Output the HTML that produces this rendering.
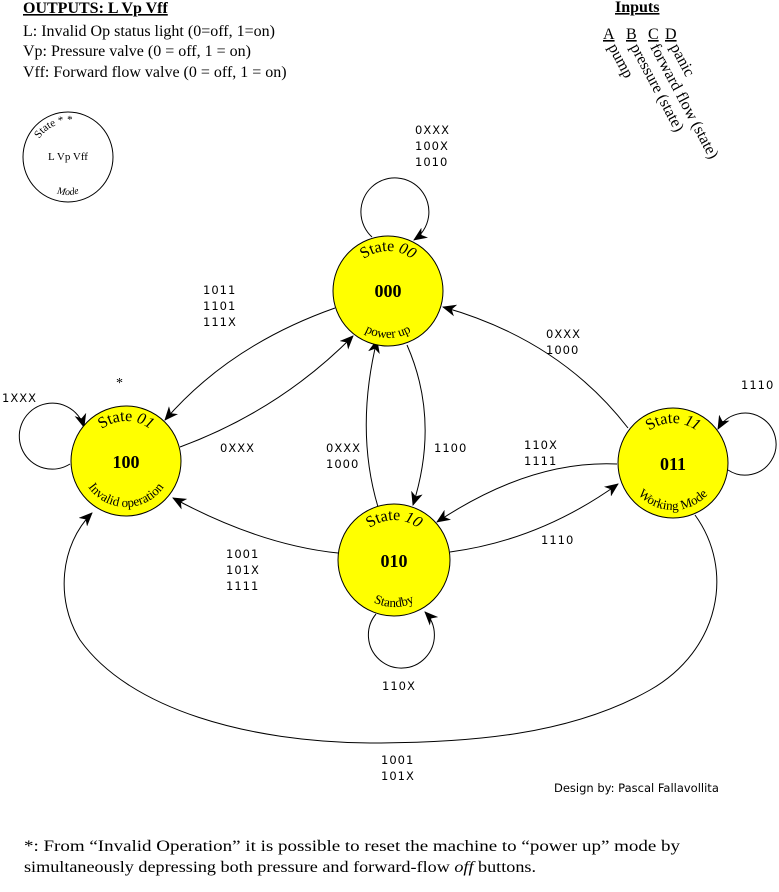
<!DOCTYPE html>
<html><head><meta charset="utf-8"><style>
html,body{margin:0;padding:0;background:#fff;}
svg{display:block;}
.s{font-family:"DejaVu Sans","Liberation Sans",sans-serif;font-size:11.5px;letter-spacing:1px;fill:#000;}
.t{font-family:"Liberation Serif",serif;}
</style></head><body>
<svg width="779" height="892" viewBox="0 0 779 892" xmlns="http://www.w3.org/2000/svg">
<defs>
<marker id="a" markerWidth="14" markerHeight="12" refX="13" refY="6" orient="auto" markerUnits="userSpaceOnUse">
<path d="M0,0 L14,6 L0,12 L4,6 Z" fill="#000"/></marker>
<path id="t00" d="M348,291 A40,40 0 0 1 428,291"/>
<path id="b00" d="M341,291 A47,47 0 0 0 435,291"/>
<path id="t01" d="M86,461 A40,40 0 0 1 166,461"/>
<path id="b01" d="M80,461 A46,46 0 0 0 172,461"/>
<path id="t10" d="M354,560 A40,40 0 0 1 434,560"/>
<path id="b10" d="M347,560 A47,47 0 0 0 441,560"/>
<path id="t11" d="M633,463 A40,40 0 0 1 713,463"/>
<path id="b11" d="M626,463 A47,47 0 0 0 720,463"/>
<path id="tl" d="M34,157 A34,34 0 0 1 102,157"/>
<path id="bl" d="M30,157 A38,38 0 0 0 106,157"/>
</defs>

<g class="t" font-size="16">
<text x="23" y="13" font-weight="bold" text-decoration="underline">OUTPUTS: L Vp Vff</text>
<text x="23" y="36">L: Invalid Op status light (0=off, 1=on)</text>
<text x="23" y="56">Vp: Pressure valve (0 = off, 1 = on)</text>
<text x="23" y="77">Vff: Forward flow valve (0 = off, 1 = on)</text>
<text x="615" y="12" font-weight="bold" text-decoration="underline">Inputs</text>
<text x="603" y="39" text-decoration="underline">A</text>
<text x="626" y="39" text-decoration="underline">B</text>
<text x="648" y="39" text-decoration="underline">C</text>
<text x="665" y="39" text-decoration="underline">D</text>
<text transform="translate(608,47) rotate(62)">pump</text>
<text transform="translate(630,47) rotate(62)">pressure (state)</text>
<text transform="translate(650,47) rotate(62)">forward flow (state)</text>
<text transform="translate(670,47) rotate(62)">panic</text>
</g>

<circle cx="68" cy="157" r="45" fill="#fff" stroke="#000"/>
<text class="t" font-size="11"><textPath href="#tl" startOffset="18%">State *  *</textPath></text>
<text class="t" x="68" y="160" font-size="11" text-anchor="middle">L Vp Vff</text>
<text class="t" font-size="10" font-style="italic"><textPath href="#bl" startOffset="50%" text-anchor="middle">Mode</textPath></text>

<g fill="none" stroke="#000" stroke-width="1">
<path d="M372,237 A34,34 0 1 1 414,240" marker-end="url(#a)"/>
<path d="M70,464 A33,33 0 1 1 84,427" marker-end="url(#a)"/>
<path d="M376,614 A33,33 0 1 0 425,612" marker-end="url(#a)"/>
<path d="M728,470 A31,31 0 1 0 718,429" marker-end="url(#a)"/>
<path d="M335,308 Q230,345 165,420" marker-end="url(#a)"/>
<path d="M180,447 Q280,410 353,336" marker-end="url(#a)"/>
<path d="M407,345 Q440,420 413,505" marker-end="url(#a)"/>
<path d="M378,507 Q355,430 377,340" marker-end="url(#a)"/>
<path d="M628,428 Q560,340 443,307" marker-end="url(#a)"/>
<path d="M617,464 Q530,460 437,522" marker-end="url(#a)"/>
<path d="M450,552 Q540,540 618,484" marker-end="url(#a)"/>
<path d="M338,553 Q260,545 173,498" marker-end="url(#a)"/>
<path d="M695,515 C735,570 720,650 650,690 C570,735 470,743 370,743 C250,742 130,710 80,640 C55,600 60,545 92,513" marker-end="url(#a)"/>
</g>

<g fill="#ff0" stroke="#000">
<circle cx="388" cy="291" r="55"/>
<circle cx="126" cy="461" r="55"/>
<circle cx="394" cy="560" r="56"/>
<circle cx="673" cy="463" r="55"/>
</g>
<g class="t">
<text font-size="16"><textPath href="#t00" startOffset="50%" text-anchor="middle">State <tspan font-style="italic">00</tspan></textPath></text>
<text x="388" y="297" font-size="18" font-weight="bold" text-anchor="middle">000</text>
<text font-size="13"><textPath href="#b00" startOffset="50%" text-anchor="middle">power up</textPath></text>
<text font-size="16"><textPath href="#t01" startOffset="50%" text-anchor="middle">State <tspan font-style="italic">01</tspan></textPath></text>
<text x="126" y="468" font-size="18" font-weight="bold" text-anchor="middle">100</text>
<text font-size="13"><textPath href="#b01" startOffset="50%" text-anchor="middle">Invalid operation</textPath></text>
<text font-size="16"><textPath href="#t10" startOffset="50%" text-anchor="middle">State <tspan font-style="italic">10</tspan></textPath></text>
<text x="394" y="567" font-size="18" font-weight="bold" text-anchor="middle">010</text>
<text font-size="13"><textPath href="#b10" startOffset="50%" text-anchor="middle">Standby</textPath></text>
<text font-size="16"><textPath href="#t11" startOffset="50%" text-anchor="middle">State <tspan font-style="italic">11</tspan></textPath></text>
<text x="673" y="470" font-size="18" font-weight="bold" text-anchor="middle">011</text>
<text font-size="13"><textPath href="#b11" startOffset="50%" text-anchor="middle">Working Mode</textPath></text>
</g>

<g class="s">
<text x="415" y="134">0XXX</text><text x="415" y="150">100X</text><text x="415" y="166">1010</text>
<text x="203" y="294">1011</text><text x="203" y="310">1101</text><text x="203" y="326">111X</text>
<text x="546" y="338">0XXX</text><text x="546" y="354">1000</text>
<text x="741" y="389">1110</text>
<text x="2" y="402">1XXX</text>
<text x="220" y="452">0XXX</text>
<text x="326" y="452">0XXX</text><text x="326" y="468">1000</text>
<text x="434" y="452">1100</text>
<text x="524" y="449">110X</text><text x="524" y="465">1111</text>
<text x="541" y="544">1110</text>
<text x="226" y="558">1001</text><text x="226" y="574">101X</text><text x="226" y="590">1111</text>
<text x="382" y="690">110X</text>
<text x="381" y="764">1001</text><text x="381" y="780">101X</text>
<text x="554" y="792" letter-spacing="0">Design by: Pascal Fallavollita</text>
</g>
<text class="t" x="116" y="387" font-size="14">*</text>

<g class="t" font-size="16">
<text x="24" y="851" textLength="656" lengthAdjust="spacingAndGlyphs">*: From “Invalid Operation” it is possible to reset the machine to “power up” mode by</text>
<text x="24" y="872" textLength="512" lengthAdjust="spacingAndGlyphs">simultaneously depressing both pressure and forward-flow <tspan font-style="italic">off</tspan> buttons.</text>
</g>
</svg>
</body></html>
